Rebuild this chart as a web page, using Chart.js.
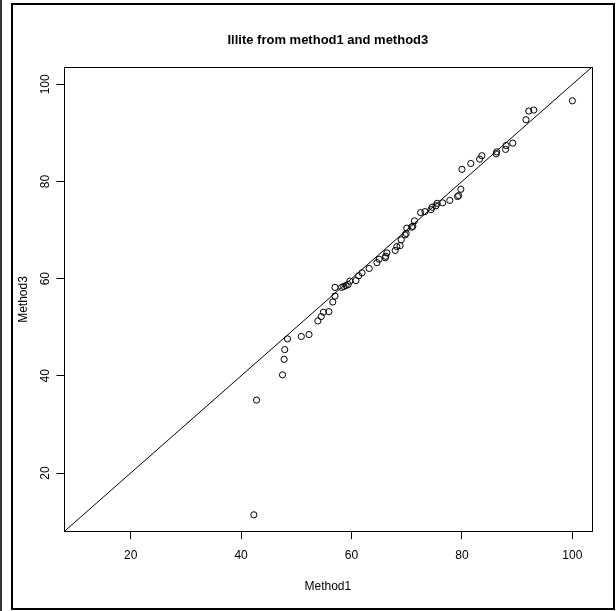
<!DOCTYPE html>
<html>
<head>
<meta charset="utf-8">
<script src="https://cdn.jsdelivr.net/npm/chart.js@4/dist/chart.umd.min.js"></script>
<style>
html,body{margin:0;padding:0;background:#fff;}
#wrap{position:relative;width:616px;height:611px;overflow:hidden;background:#fff;}
#c{position:absolute;left:0;top:0;}
#frame{position:absolute;left:11px;top:3px;width:604px;height:607px;border:2px solid #000;box-sizing:border-box;pointer-events:none;}
#edge{position:absolute;left:0;top:0;width:2px;height:611px;background:#333;pointer-events:none;}
</style>
</head>
<body>
<div id="wrap">
<canvas id="c" width="616" height="611"></canvas>
<div id="frame"></div>
<div id="edge"></div>
</div>
<script>
// ---- data ----
const method1 = [42.3, 42.8, 47.5, 47.8, 47.9, 48.4, 50.9, 52.3, 53.9, 54.5,
  54.9, 55.9, 56.6, 57.0, 57.0, 58.2, 58.6, 59.0, 59.4, 59.7,
  60.8, 61.3, 61.9, 63.2, 64.6, 65.0, 66.1, 66.2, 66.4, 67.9,
  68.2, 68.8, 69.0, 69.7, 69.9, 70.0, 70.9, 71.1, 71.4, 72.5,
  73.3, 74.4, 74.6, 75.3, 75.5, 76.5, 77.8, 79.2, 79.4, 79.8,
  80.0, 81.6, 83.2, 83.6, 86.2, 86.3, 87.9, 88.0, 89.2, 91.6,
  92.1, 93.0, 100.0];
const method3 = [11.4, 35.0, 40.2, 43.4, 45.4, 47.6, 48.1, 48.5, 51.3, 52.2,
  53.1, 53.2, 55.2, 56.4, 58.2, 58.2, 58.4, 58.6, 58.8, 59.5,
  59.6, 60.6, 61.2, 62.1, 63.3, 64.0, 64.3, 64.6, 65.3, 65.8,
  66.6, 66.8, 68.0, 69.0, 69.3, 70.4, 70.6, 70.8, 71.9, 73.6,
  73.8, 74.2, 74.7, 75.0, 75.5, 75.6, 76.1, 76.9, 77.1, 78.4,
  82.5, 83.7, 84.6, 85.3, 85.7, 86.1, 86.6, 87.4, 87.9, 92.7,
  94.5, 94.7, 96.6];
const xTicks = [20, 40, 60, 80, 100];
const yTicks = [20, 40, 60, 80, 100];
const axisLimits = [7.92, 103.5];   // same limits on both axes
const titleText = 'Illite from method1 and method3';
const xLabel = 'Method1';
const yLabel = 'Method3';

const points = method1.map((v, i) => ({x: v, y: method3[i]}));
const identity = axisLimits.map(v => ({x: v, y: v}));

const FAM = '"Liberation Sans Narrow", "Liberation Sans", Arial, sans-serif';

const boxPlugin = {
  id: 'box',
  afterDatasetsDraw(chart) {
    const {ctx, chartArea: a} = chart;
    ctx.save();
    ctx.strokeStyle = '#000';
    ctx.lineWidth = 1;
    ctx.strokeRect(Math.round(a.left) + 0.5, Math.round(a.top) + 0.5,
      Math.round(a.right - a.left), Math.round(a.bottom - a.top));
    ctx.restore();
  }
};

new Chart(document.getElementById('c'), {
  type: 'scatter',
  data: {
    datasets: [
      {
        data: points,
        pointStyle: 'circle',
        pointRadius: 3.1,
        pointHoverRadius: 3.1,
        borderColor: '#000',
        backgroundColor: 'rgba(0,0,0,0)',
        pointBorderWidth: 1,
        borderWidth: 1
      },
      {
        type: 'line',
        data: identity,
        showLine: true,
        pointRadius: 0,
        borderColor: '#000',
        borderWidth: 1,
        fill: false
      }
    ]
  },
  options: {
    responsive: false,
    animation: false,
    devicePixelRatio: 1,
    layout: {padding: {left: 0, right: 24.3, top: 0, bottom: 0}},
    plugins: {
      legend: {display: false},
      tooltip: {enabled: false},
      title: {
        display: true,
        text: titleText,
        fullSize: false,
        color: '#000',
        font: {family: FAM, size: 13, weight: 'bold', lineHeight: 1.2},
        padding: {top: 32.2, bottom: 19.5}
      }
    },
    scales: {
      x: {
        type: 'linear',
        position: 'bottom',
        min: axisLimits[0],
        max: axisLimits[1],
        afterBuildTicks: s => { s.ticks = xTicks.map(v => ({value: v})); },
        afterFit: s => { s.height = 79.3; },
        grid: {display: true, drawOnChartArea: false, drawTicks: true, tickLength: 7.5, color: '#000', lineWidth: 1},
        border: {display: true, color: '#000', width: 1},
        ticks: {color: '#000', font: {family: FAM, size: 12}, padding: 9, maxRotation: 0, minRotation: 0, autoSkip: false},
        title: {display: true, text: xLabel, color: '#000', font: {family: FAM, size: 12, lineHeight: 1.2}, padding: {top: 0, bottom: 16.8}}
      },
      y: {
        type: 'linear',
        position: 'left',
        min: axisLimits[0],
        max: axisLimits[1],
        afterBuildTicks: s => { s.ticks = yTicks.map(v => ({value: v})); },
        afterFit: s => { s.width = 64; },
        grid: {display: true, drawOnChartArea: false, drawTicks: true, tickLength: 7.5, color: '#000', lineWidth: 1},
        border: {display: true, color: '#000', width: 1},
        ticks: {color: '#000', font: {family: FAM, size: 12}, padding: 1, minRotation: 90, maxRotation: 90, crossAlign: 'center', autoSkip: false},
        title: {display: true, text: yLabel, color: '#000', font: {family: FAM, size: 12, lineHeight: 1.2}, padding: {top: 16.8, bottom: 0}}
      }
    }
  },
  plugins: [boxPlugin]
});
</script>
</body>
</html>
